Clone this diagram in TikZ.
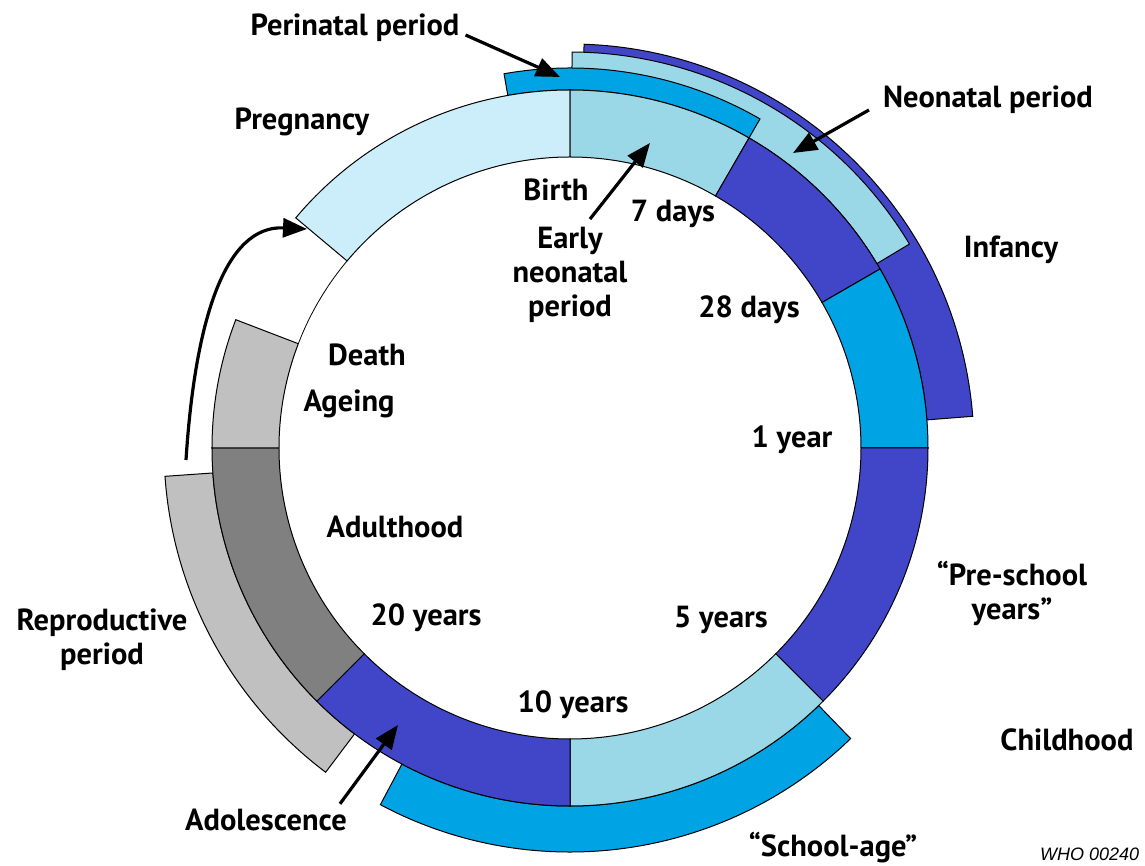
\documentclass[tikz,border=0pt]{standalone}
\usepackage{fontspec}
\setmainfont{PT Sans}
\newfontfamily\whofont{Liberation Sans}
\usetikzlibrary{arrows.meta}
\definecolor{vlblue}{HTML}{CCEEFB}
\definecolor{lblue}{HTML}{9AD8E8}
\definecolor{mblue}{HTML}{00A3E3}
\definecolor{indigo}{HTML}{4146C8}
\definecolor{dgrey}{HTML}{808080}
\definecolor{lgrey}{HTML}{C0C0C0}
\newcommand\annsec[5]{\filldraw[fill=#5, draw=black, line width=1pt, line join=miter] (#1:#3) arc[start angle=#1, end angle=#2, radius=#3] -- (#2:#4) arc[start angle=#2, end angle=#1, radius=#4] -- cycle;}
\tikzset{
  lbl/.style={font=\bfseries\fontsize{30.5}{34}\selectfont, align=center, inner sep=0pt},
  arr/.style={line width=3.2pt, -{Triangle[length=24pt,width=19pt]}}
}
\begin{document}
\begin{tikzpicture}[x=1pt,y=1pt]
\useasboundingbox (-570,-418) rectangle (575,448);
% outer bands
\annsec{4.5}{88}{358}{404}{indigo}
\annsec{31}{89.7}{358}{396}{lblue}
\annsec{60}{100}{358}{380}{mblue}
\annsec{-46}{-118}{358}{404}{mblue}
\annsec{184}{233}{358}{406}{lgrey}
% main ring
\annsec{90}{140}{291}{358}{vlblue}
\annsec{60}{90}{291}{358}{lblue}
\annsec{30}{60}{291}{358}{indigo}
\annsec{0}{30}{291}{358}{mblue}
\annsec{-45}{0}{291}{358}{indigo}
\annsec{-90}{-45}{291}{358}{lblue}
\annsec{-135}{-90}{291}{358}{indigo}
\annsec{180}{225}{291}{358}{dgrey}
\annsec{159}{180}{291}{358}{lgrey}
\draw[line width=0.8pt] (140:291) arc[start angle=140, end angle=159, radius=291];
% labels
\node[lbl] (perin) at (-215,420) {Perinatal period};
\node[lbl] (neon) at (418,348) {Neonatal period};
\node[lbl] (preg) at (-268,326) {Pregnancy};
\node[lbl] (birth) at (-14,258) {Birth};
\node[lbl] (d7) at (103,234) {7 days};
\node[lbl] (early) at (0,173) {Early\\neonatal\\period};
\node[lbl] (inf) at (441,198) {Infancy};
\node[lbl] (d28) at (179,138) {28 days};
\node[lbl] (death) at (-203,93) {Death};
\node[lbl] (ageing) at (-221,44) {Ageing};
\node[lbl] (y1) at (222,8) {1 year};
\node[lbl] (adult) at (-175,-79) {Adulthood};
\node[lbl] (presch) at (442,-145) {“Pre-school\\years”};
\node[lbl] (repro) at (-468,-192) {Reproductive\\period};
\node[lbl] (y20) at (-144,-170) {20 years};
\node[lbl] (y5) at (151,-172) {5 years};
\node[lbl] (y10) at (3,-257) {10 years};
\node[lbl] (child) at (497,-292) {Childhood};
\node[lbl] (adol) at (-304,-372) {Adolescence};
\node[lbl] (school) at (263,-400) {“School-age”};
\node[anchor=base west, inner sep=0pt, font=\whofont\itshape\fontsize{18}{20}\selectfont] (who) at (470,-412) {WHO 00240};
% arrow targets
\coordinate (tPeri) at (-10,371);
\coordinate (tEarly) at (80,305);
\coordinate (tNeon) at (223,295);
\coordinate (tAdol) at (-172,-277);
\coordinate (tPreg) at (-263,219);
\coordinate (sRepro) at (-384,-12);
% arrows
\draw[arr] ([shift={(6,-7)}]perin.east) -- (tPeri);
\draw[arr] ([shift={(20,8)}]early.north) -- (tEarly);
\draw[arr] ([shift={(-14,-10)}]neon.west) -- (tNeon);
\draw[arr] ([shift={(74,5)}]adol.north) -- (tAdol);
\draw[arr] (sRepro) .. controls (-375,128) and (-345,223) .. (tPreg);
\end{tikzpicture}
\end{document}
